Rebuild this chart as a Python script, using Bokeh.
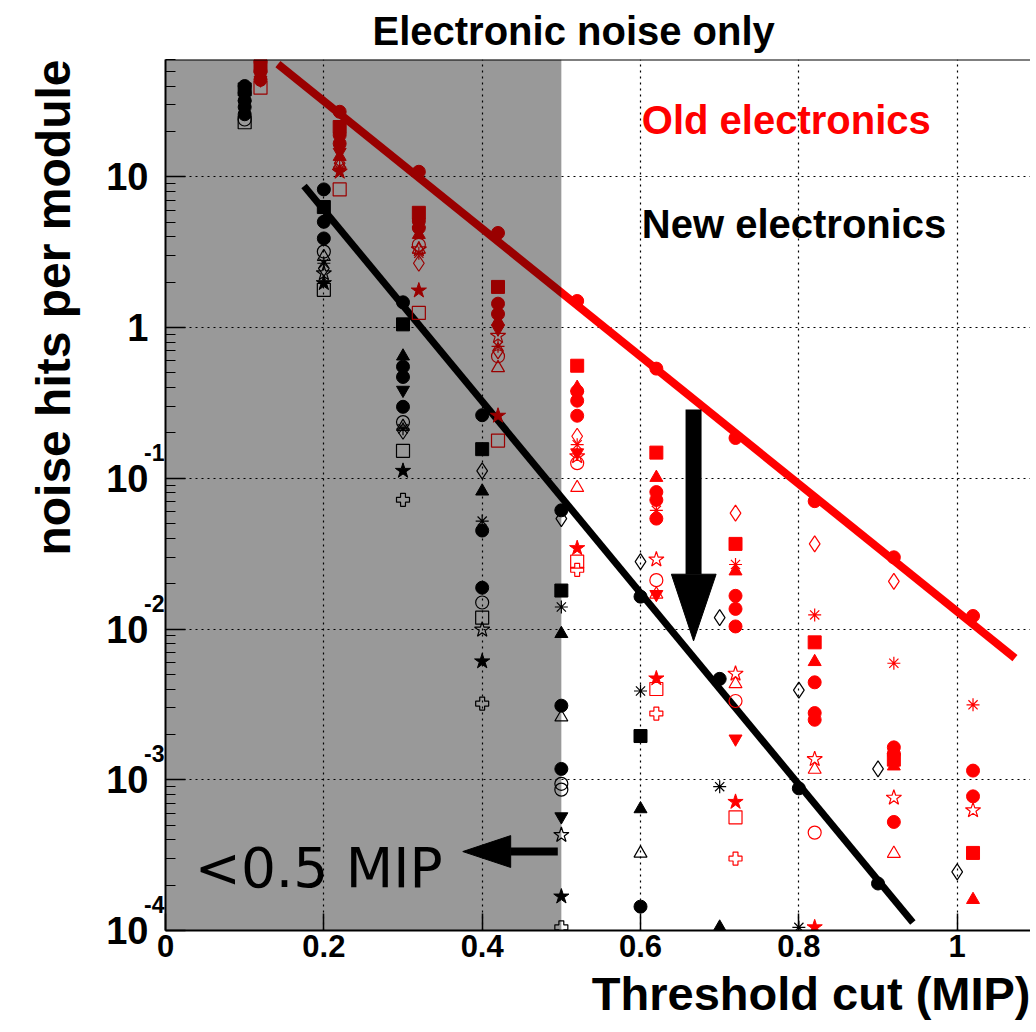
import math
from bokeh.plotting import figure
from bokeh.models import (BoxAnnotation, Label, FixedTicker, Range1d, Span, LogAxis, Title)
from bokeh.embed import file_html
from bokeh.resources import INLINE

# ---------------- data ----------------
# New electronics (black), thresholds 0.1 ... 1.0
new_circle_x = [0.1, 0.1, 0.1, 0.1, 0.1, 0.2, 0.2, 0.2, 0.3, 0.3, 0.3, 0.3, 0.4, 0.4, 0.4,
                0.5, 0.5, 0.5, 0.6, 0.6, 0.7, 0.8, 0.9]
new_circle_y = [40, 36, 32, 29, 26, 8.25, 5.03, 3.9, 1.47, 0.55, 0.47, 0.298, 0.262, 0.045, 0.0188,
                0.0613, 0.0031, 0.00118, 0.0164, 0.000144, 0.00467, 0.000877, 0.000205]
new_square_x = [0.1, 0.2, 0.3, 0.4, 0.5, 0.6]
new_square_y = [38, 6.3, 1.05, 0.156, 0.018, 0.00195]
new_tri_x = [0.1, 0.3, 0.4, 0.5, 0.6, 0.7]
new_tri_y = [34, 0.645, 0.082, 0.0093, 0.00064, 1.05e-4]
new_itri_x = [0.1, 0.3, 0.5]
new_itri_y = [30, 0.385, 0.00057]
new_star_x = [0.2, 0.3, 0.4, 0.5]
new_star_y = [1.97, 0.112, 0.0061, 0.000168]
new_ocircle_x = [0.1, 0.2, 0.3, 0.4, 0.5, 0.5]
new_ocircle_y = [24, 3.19, 0.236, 0.015, 0.00094, 0.00086]
new_osquare_x = [0.1, 0.2, 0.3, 0.4]
new_osquare_y = [23, 1.78, 0.152, 0.0119]
new_otri_x = [0.2, 0.3, 0.5, 0.6]
new_otri_y = [2.95, 0.22, 0.0026, 0.000325]
new_odiamond_x = [0.2, 0.3, 0.4, 0.5, 0.6, 0.7, 0.8, 0.9, 1.0]
new_odiamond_y = [2.47, 0.205, 0.112, 0.054, 0.028, 0.0119, 0.00393, 0.00118, 0.000245]
new_aster_x = [0.2, 0.3, 0.4, 0.5, 0.6, 0.7, 0.8]
new_aster_y = [2.67, 0.213, 0.052, 0.014, 0.00388, 0.0009, 1.05e-4]
new_ostar_x = [0.2, 0.4, 0.5]
new_ostar_y = [2.29, 0.0099, 0.00043]
new_ocross_x = [0.3, 0.4, 0.5]
new_ocross_y = [0.072, 0.0032, 0.000105]

# Old electronics (red), thresholds 0.12 ... 1.02
old_circle_x = [0.12, 0.12, 0.12, 0.22, 0.22, 0.22, 0.32, 0.32, 0.32, 0.42, 0.42, 0.42,
                0.52, 0.52, 0.52, 0.52, 0.62, 0.62, 0.62, 0.62, 0.72, 0.72, 0.72, 0.72,
                0.82, 0.82, 0.82, 0.82, 0.92, 0.92, 0.92, 0.92, 1.02, 1.02, 1.02]
old_circle_y = [58, 50, 44, 27, 18.9, 16.6, 10.8, 5.08, 4.58, 4.24, 1.44, 1.23,
                1.5, 0.378, 0.327, 0.26, 0.534, 0.081, 0.0718, 0.054, 0.185, 0.0166, 0.0136, 0.0104,
                0.0705, 0.00443, 0.00277, 0.0025, 0.0299, 0.00164, 0.00149, 0.000525, 0.0122, 0.00115, 0.000776]
old_square_x = [0.12, 0.22, 0.32, 0.42, 0.52, 0.62, 0.72, 0.82, 0.92, 1.02]
old_square_y = [54, 21.4, 5.77, 1.86, 0.558, 0.148, 0.0367, 0.00816, 0.00136, 0.000327]
old_tri_x = [0.12, 0.22, 0.32, 0.42, 0.52, 0.62, 0.72, 0.82, 0.92, 1.02]
old_tri_y = [47, 13.6, 4.13, 1.1, 0.4, 0.101, 0.0242, 0.00606, 0.00123, 0.00016]
old_itri_x = [0.12, 0.22, 0.32, 0.42, 0.52, 0.62, 0.72]
old_itri_y = [44, 14.6, 4.4, 0.98, 0.148, 0.017, 0.00187]
old_star_x = [0.22, 0.32, 0.42, 0.52, 0.62, 0.72, 0.82]
old_star_y = [10.8, 1.76, 0.26, 0.0344, 0.0047, 0.000713, 1.05e-4]
old_ocircle_x = [0.32, 0.42, 0.52, 0.62, 0.72, 0.82]
old_ocircle_y = [3.54, 0.645, 0.126, 0.0211, 0.00333, 0.000446]
old_osquare_x = [0.12, 0.22, 0.32, 0.42, 0.52, 0.62, 0.72]
old_osquare_y = [39, 8.25, 1.25, 0.178, 0.028, 0.004, 0.000563]
old_otri_x = [0.22, 0.32, 0.42, 0.52, 0.62, 0.72, 0.82, 0.92]
old_otri_y = [12.0, 3.3, 0.54, 0.0866, 0.017, 0.00432, 0.00117, 0.000324]
old_odiamond_x = [0.22, 0.32, 0.42, 0.52, 0.72, 0.82, 0.92]
old_odiamond_y = [12.3, 2.67, 0.7, 0.19, 0.0587, 0.0367, 0.0207]
old_aster_x = [0.22, 0.32, 0.42, 0.52, 0.62, 0.72, 0.82, 0.92, 1.02]
old_aster_y = [11.6, 3.11, 0.75, 0.167, 0.0613, 0.0268, 0.0124, 0.00593, 0.00314]
old_ostar_x = [0.32, 0.42, 0.52, 0.62, 0.72, 0.82, 0.92, 1.02]
old_ostar_y = [3.3, 0.88, 0.14, 0.0289, 0.00505, 0.00137, 0.00076, 0.000627]
old_ocross_x = [0.52, 0.62, 0.72]
old_ocross_y = [0.0247, 0.00275, 0.0003]

# exponential fits (end points)
fit_new_x = [0.175, 0.944]
fit_new_y = [8.7, 1.13e-4]
fit_old_x = [0.142, 1.073]
fit_old_y = [56, 0.0064]

x_ticks = [0, 0.2, 0.4, 0.6, 0.8, 1.0]
x_tick_labels = ["0", "0.2", "0.4", "0.6", "0.8", "1"]
y_ticks = [1e-4, 1e-3, 1e-2, 1e-1, 1, 10]
y_tick_labels = ["10", "10", "10", "10", "1", "10"]
y_exp_decades = [-4, -3, -2, -1]
y_exp_labels = ["-4", "-3", "-2", "-1"]

RED = "#ff0000"
BLACK = "#000000"
FONT = "Liberation Sans"

# ---------------- figure ----------------
p = figure(width=1030, height=1032, y_axis_type="log",
           x_range=Range1d(0, 1.0926), y_range=Range1d(1e-4, 60),
           output_backend="svg", toolbar_location=None,
           min_border_left=165, min_border_right=0, min_border_top=58, min_border_bottom=102)
p.outline_line_color = None
p.background_fill_color = "white"
p.border_fill_color = "white"

p.title.text = "Electronic noise only"
p.title.align = "left"
p.title.offset = 207
p.title.text_font = FONT
p.title.text_font_style = "bold"
p.title.text_font_size = "40px"
p.title.text_color = "black"
p.title.standoff = 13

for g in (p.xgrid[0], p.ygrid[0]):
    g.grid_line_color = "black"
    g.grid_line_dash = "2 4"
    g.grid_line_width = 1.2

xa = p.xaxis[0]
xa.ticker = FixedTicker(ticks=x_ticks)
xa.major_label_overrides = {t: l for t, l in zip(x_ticks, x_tick_labels)}
xa.major_tick_in = 17
xa.major_tick_out = 0
xa.minor_tick_line_color = None
xa.axis_line_width = 2
xa.axis_line_color = "black"
xa.major_tick_line_color = "black"
xa.major_tick_line_width = 1.5
xa.major_label_text_font = FONT
xa.major_label_text_font_style = "bold"
xa.major_label_text_font_size = "31px"
xa.major_label_text_color = "black"
xa.major_label_standoff = 4

# inner y axis: line and ticks only
ya = p.yaxis[0]
minor = [m * 10.0 ** e for e in range(-4, 2) for m in range(2, 10) if m * 10.0 ** e <= 60]
ya.ticker = FixedTicker(ticks=y_ticks, minor_ticks=minor)
ya.major_label_overrides = {t: "" for t in y_ticks}
ya.major_label_text_font_size = "0px"
ya.major_label_standoff = 0
ya.major_tick_in = 20
ya.major_tick_out = 0
ya.minor_tick_in = 10
ya.minor_tick_out = 0
ya.axis_line_width = 2
ya.axis_line_color = "black"
ya.major_tick_line_color = "black"
ya.minor_tick_line_color = "black"
ya.major_tick_line_width = 1.5

# exponent labels (raised above each decade)
exp_pos = [10.0 ** (d + 0.172) for d in y_exp_decades]
ea = LogAxis(ticker=FixedTicker(ticks=exp_pos, minor_ticks=[]),
             major_label_overrides={t: l for t, l in zip(exp_pos, y_exp_labels)},
             axis_line_color=None, major_tick_line_color=None, minor_tick_line_color=None,
             major_tick_out=0, minor_tick_out=0, major_label_standoff=1,
             major_label_text_font=FONT, major_label_text_font_style="bold",
             major_label_text_font_size="23px", major_label_text_color="black")
p.add_layout(ea, "left")

# mantissa labels
ta = LogAxis(ticker=FixedTicker(ticks=y_ticks, minor_ticks=[]),
             major_label_overrides={t: l for t, l in zip(y_ticks, y_tick_labels)},
             axis_line_color=None, major_tick_line_color=None, minor_tick_line_color=None,
             major_tick_out=0, minor_tick_out=0, major_label_standoff=-7,
             major_label_text_font=FONT, major_label_text_font_style="bold",
             major_label_text_font_size="38px", major_label_text_color="black")
p.add_layout(ta, "left")

p.add_layout(Title(text="noise hits per module", align="right", text_font=FONT,
                   text_font_style="bold", text_font_size="48px", text_color="black",
                   standoff=48), "left")
p.add_layout(Title(text="Threshold cut (MIP)", align="right", text_font=FONT,
                   text_font_style="bold", text_font_size="47px", text_color="black",
                   standoff=10), "below")

# top frame line
p.add_layout(Span(location=60, dimension="width", line_color="black", line_width=2))

# fits
p.line(fit_old_x, fit_old_y, line_color=RED, line_width=8)
p.line(fit_new_x, fit_new_y, line_color=BLACK, line_width=7)

SZ = 13

def filled(xs, ys, marker, color, size=SZ):
    p.scatter(xs, ys, marker=marker, size=size, fill_color=color, line_color=color)

def hollow(xs, ys, marker, color, size=SZ):
    p.scatter(xs, ys, marker=marker, size=size, fill_color=None, line_color=color, line_width=1.2)

for col, d in ((BLACK, dict(circle=(new_circle_x, new_circle_y), square=(new_square_x, new_square_y),
                             triangle=(new_tri_x, new_tri_y), inverted_triangle=(new_itri_x, new_itri_y),
                             star=(new_star_x, new_star_y))),
               (RED, dict(circle=(old_circle_x, old_circle_y), square=(old_square_x, old_square_y),
                          triangle=(old_tri_x, old_tri_y), inverted_triangle=(old_itri_x, old_itri_y),
                          star=(old_star_x, old_star_y)))):
    for mk, (xs, ys) in d.items():
        filled(xs, ys, mk, col, SZ + (3 if mk == "star" else 0))

for col, d in ((BLACK, dict(circle=(new_ocircle_x, new_ocircle_y), square=(new_osquare_x, new_osquare_y),
                             triangle=(new_otri_x, new_otri_y), diamond=(new_odiamond_x, new_odiamond_y),
                             asterisk=(new_aster_x, new_aster_y), star=(new_ostar_x, new_ostar_y),
                             plus=(new_ocross_x, new_ocross_y))),
               (RED, dict(circle=(old_ocircle_x, old_ocircle_y), square=(old_osquare_x, old_osquare_y),
                          triangle=(old_otri_x, old_otri_y), diamond=(old_odiamond_x, old_odiamond_y),
                          asterisk=(old_aster_x, old_aster_y), star=(old_ostar_x, old_ostar_y),
                          plus=(old_ocross_x, old_ocross_y)))):
    for mk, (xs, ys) in d.items():
        hollow(xs, ys, mk, col, SZ + (3 if mk in ("star", "diamond") else 0))

# dark overlay for the region below 0.5 MIP
p.add_layout(BoxAnnotation(left=0, right=0.5, fill_color="black", fill_alpha=0.4,
                           line_alpha=0))

# vertical arrow (big)
p.segment(x0=[0.667], y0=[0.286], x1=[0.667], y1=[0.0231], line_color="black",
          line_width=16, line_cap="butt")
p.patch(x=[0.639, 0.6955, 0.667], y=[0.0231, 0.0231, 0.00834], fill_color="black", line_color="black")

# horizontal arrow to "<0.5 MIP"
p.segment(x0=[0.436], y0=[3.34e-4], x1=[0.4955], y1=[3.34e-4], line_color="black",
          line_width=8, line_cap="butt")
p.patch(x=[0.436, 0.436, 0.3755], y=[4.26e-4, 2.62e-4, 3.34e-4], fill_color="black", line_color="black")

# texts inside the frame
p.add_layout(Label(x=0.037, y=2.58e-4, text="<0.5 MIP", text_font="DejaVu Sans",
                   text_font_size="55px", text_align="left", text_baseline="alphabetic",
                   text_color="black"))
p.add_layout(Label(x=0.6016, y=23.8, text="Old electronics", text_font=FONT, text_font_style="bold",
                   text_font_size="40px", text_align="left", text_baseline="middle", text_color=RED))
p.add_layout(Label(x=0.6016, y=4.89, text="New electronics", text_font=FONT, text_font_style="bold",
                   text_font_size="40px", text_align="left", text_baseline="middle", text_color="black"))

open("out.html", "w").write(file_html(p, INLINE))
